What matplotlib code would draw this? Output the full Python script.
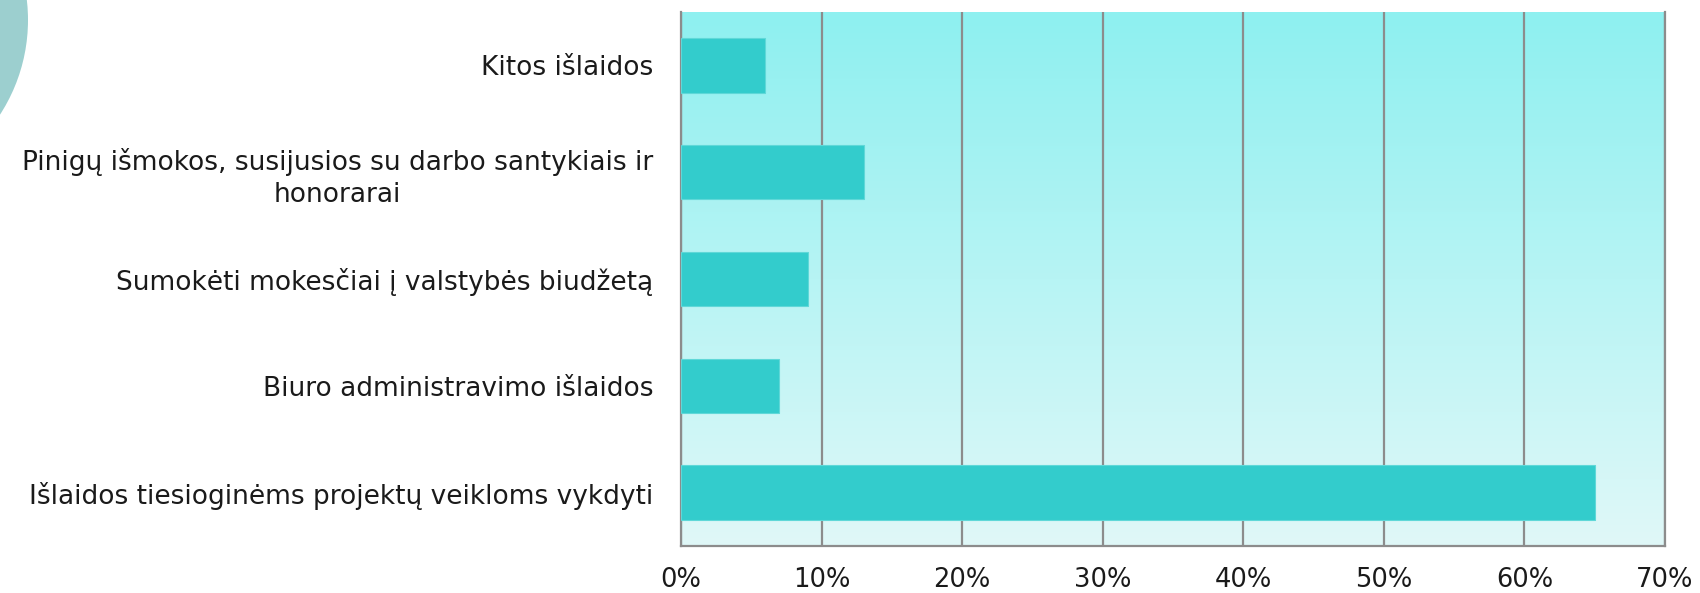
import matplotlib
matplotlib.use("Agg")
import matplotlib.pyplot as plt
import numpy as np
from matplotlib.patches import Circle
from matplotlib.ticker import FuncFormatter

categories = [
    "Išlaidos tiesioginėms projektų veikloms vykdyti",
    "Biuro administravimo išlaidos",
    "Sumokėti mokesčiai į valstybės biudžetą",
    "Pinigų išmokos, susijusios su darbo santykiais ir\nhonorarai",
    "Kitos išlaidos",
]
values = [65, 7, 9, 13, 6]
xticks = [0, 10, 20, 30, 40, 50, 60, 70]

W, H = 1700, 593
fig = plt.figure(figsize=(W / 100, H / 100), dpi=100)
fig.patch.set_facecolor("white")

# decorative circle at top-left (coordinates in inches)
fig.patches.append(Circle((-1.46, (H - 20) / 100), 1.74, transform=fig.dpi_scale_trans,
                          facecolor="#9ccfcf", edgecolor="none", zorder=0))

ax = fig.add_axes([681 / W, 47 / H, (1665 - 681) / W, (581 - 47) / H])

# gradient background
top = np.array([0x8E, 0xF0, 0xF0]) / 255
bot = np.array([0xE0, 0xF8, 0xF8]) / 255
t = np.linspace(0, 1, 256)[:, None]
grad = (top * (1 - t) + bot * t)[:, None, :]
ax.imshow(grad, aspect="auto", extent=[0, 70, -0.5, 4.5], origin="upper", zorder=0)

y = np.arange(len(categories))
ax.barh(y, values, height=0.51, color="#33cccc", edgecolor="#5fd8d8", linewidth=0.8, zorder=3)

ax.set_xlim(0, 70)
ax.set_ylim(-0.5, 4.5)
ax.set_xticks(xticks)
ax.xaxis.set_major_formatter(FuncFormatter(lambda v, p: f"{int(v)}%"))
ax.set_yticks(y)
ax.set_yticklabels(categories, fontsize=19, family="DejaVu Sans", color="#1a1a1a",
                   multialignment="center", linespacing=1.27)
for lab in ax.get_xticklabels():
    lab.set_fontsize(18.5)
    lab.set_family("DejaVu Sans")
    lab.set_color("#1a1a1a")

ax.tick_params(axis="y", length=0, pad=20)
ax.tick_params(axis="x", length=0, pad=15)

ax.grid(axis="x", color="#8c8c8c", linewidth=1.6, zorder=1)
ax.set_axisbelow(True)
for s in ["left", "bottom", "right"]:
    ax.spines[s].set_color("#8c8c8c")
    ax.spines[s].set_linewidth(1.6)
ax.spines["top"].set_visible(False)

fig.savefig("out.png", dpi=100)
